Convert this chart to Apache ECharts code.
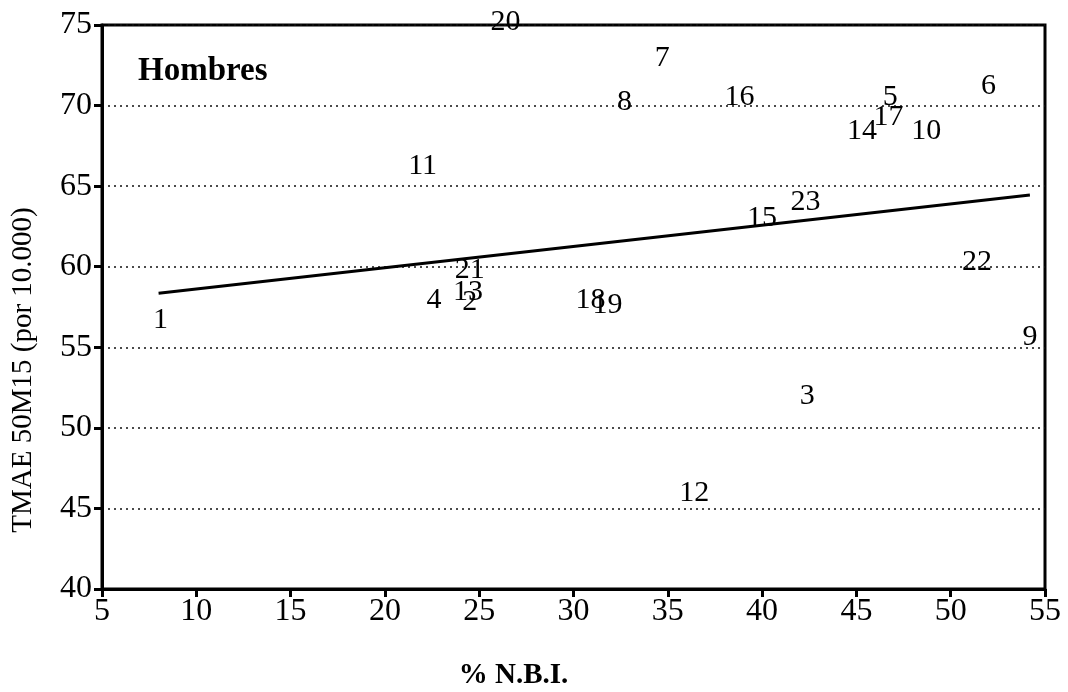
<!DOCTYPE html>
<html>
<head>
<meta charset="utf-8">
<script src="https://cdn.jsdelivr.net/npm/echarts@6/dist/echarts.min.js"></script>
<style>
    html, body { margin: 0; padding: 0; background: #fff; }
    #chart { width: 1068px; height: 692px; }
</style>
</head>
<body>
<div id="chart"></div>
<script>
// numero de cada departamento y sus valores
var ids = ['1', '2', '3', '4', '5', '6', '7', '8', '9', '10', '11', '12',
    '13', '14', '15', '16', '17', '18', '19', '20', '21', '22', '23'];
var nbi = [8.1, 24.5, 42.4, 22.6, 46.8, 52.0, 34.7, 32.7, 54.2, 48.7, 22.0, 36.4,
    24.4, 45.3, 40.0, 38.8, 46.7, 30.9, 31.8, 26.4, 24.5, 51.4, 42.3];
var tmae = [56.7, 57.8, 52.0, 57.9, 70.5, 71.2, 72.95, 70.2, 55.6, 68.4, 66.25, 45.95,
    58.4, 68.4, 63.0, 70.5, 69.3, 57.9, 57.6, 75.2, 59.8, 60.3, 64.0];
// recta de regresion (extremos)
var fitX = [8.0, 54.2];
var fitY = [58.35, 64.45];

var fontSerif = '"Liberation Serif", "Times New Roman", serif';

var myChart = echarts.init(document.getElementById('chart'));

var points = [];
for (var i = 0; i < ids.length; i++) {
    points.push({ value: [nbi[i], tmae[i]], name: ids[i] });
}
var fitLine = [];
for (var j = 0; j < fitX.length; j++) {
    fitLine.push([fitX[j], fitY[j]]);
}

var option = {
    backgroundColor: '#fff',
    animation: false,
    title: {
        text: 'Hombres',
        left: 133,
        top: 50,
        textStyle: { fontFamily: fontSerif, fontWeight: 'bold', fontSize: 33, color: '#000' }
    },
    grid: {
        left: 102, right: 23, top: 25, bottom: 103,
        outerBoundsMode: 'none',
        show: true, borderColor: '#000', borderWidth: 3
    },
    xAxis: {
        type: 'value',
        min: 5, max: 55, interval: 5,
        name: '% N.B.I.',
        nameLocation: 'middle',
        nameGap: 72,
        nameTextStyle: {
            fontFamily: fontSerif, fontWeight: 'bold', fontSize: 29, color: '#000',
            padding: [0, 120, 0, 0]
        },
        axisLine: { show: true, lineStyle: { color: '#000', width: 3 } },
        axisTick: { show: true, length: 8, lineStyle: { color: '#000', width: 3 } },
        axisLabel: { fontFamily: fontSerif, fontSize: 32, color: '#000', margin: 7 },
        splitLine: { show: false }
    },
    yAxis: {
        type: 'value',
        min: 40, max: 75, interval: 5,
        name: 'TMAE 50M15 (por 10.000)',
        nameLocation: 'middle',
        nameGap: 64,
        nameTextStyle: {
            fontFamily: fontSerif, fontSize: 29, color: '#000',
            padding: [0, 126, 0, 0]
        },
        axisLine: { show: true, lineStyle: { color: '#000', width: 3 } },
        axisTick: { show: true, length: 8, lineStyle: { color: '#000', width: 3 } },
        axisLabel: { fontFamily: fontSerif, fontSize: 32, color: '#000', margin: 10 },
        splitLine: { show: true, lineStyle: { color: '#111', width: 1.5, type: [2, 4] } }
    },
    series: [{
        name: 'departamentos',
        type: 'scatter',
        symbolSize: 1,
        clip: false,
        itemStyle: { color: 'rgba(255,255,255,0)' },
        label: {
            show: true,
            position: 'inside',
            formatter: '{b}',
            fontFamily: fontSerif,
            fontSize: 30,
            color: '#000',
            opacity: 1
        },
        data: points,
        z: 3
    }, {
        name: 'regresion',
        type: 'line',
        symbol: 'none',
        lineStyle: { color: '#000', width: 3 },
        data: fitLine,
        z: 2
    }]
};
// 使用刚指定的配置项和数据显示图表。
myChart.setOption(option);
</script>
</body>
</html>
